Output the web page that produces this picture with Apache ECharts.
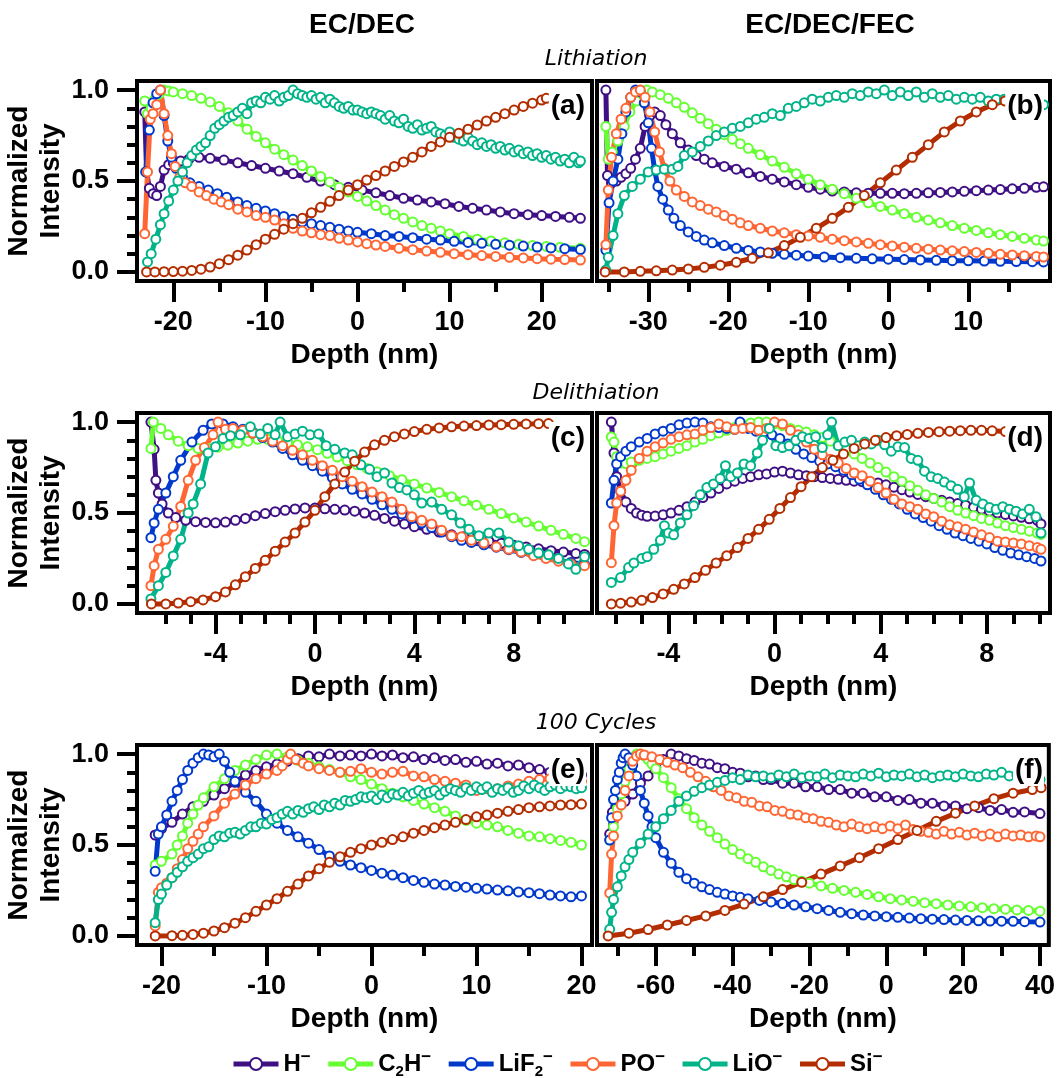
<!DOCTYPE html>
<html><head><meta charset="utf-8">
<script src="https://cdn.jsdelivr.net/npm/echarts@6/dist/echarts.min.js"></script>
<style>html,body{margin:0;padding:0;background:#fff}#c{width:1058px;height:1078px}</style>
</head><body><div id="c"></div>
<script>
const F = '"Liberation Sans", Arial, Helvetica, sans-serif';
const seriesKeys = ['H','C2H','LiF2','PO','LiO','Si'];
const seriesColors = ['#3f0f84','#66ff33','#0039cc','#ff6633','#00b388','#b32d00'];
const legendLabels = {H:'{t|H}{sup|−}', C2H:'{t|C}{sub|2}{t|H}{sup|−}', LiF2:'{t|LiF}{sub|2}{sup|−}', PO:'{t|PO}{sup|−}', LiO:'{t|LiO}{sup|−}', Si:'{t|Si}{sup|−}'};
const columnTitles = ['EC/DEC','EC/DEC/FEC'];
const rowTitles = ['Lithiation','Delithiation','100 Cycles'];
const panelLabels = ['(a)','(b)','(c)','(d)','(e)','(f)'];

const yMajorTicks = [0, 0.5, 1.0];
const yMinorTicks = [0.1,0.2,0.3,0.4,0.6,0.7,0.8,0.9];
const xMajorA = [-20,-10,0,10,20], xMinorA = [-15,-5,5,15];
const xMajorB = [-30,-20,-10,0,10], xMinorB = [-35,-25,-15,-5,5,15];
const xMajorC = [-4,0,4,8], xMinorC = [-6,-5,-3,-2,-1,1,2,3,5,6,7,9,10];
const xMajorD = [-4,0,4,8], xMinorD = [-6,-5,-3,-2,-1,1,2,3,5,6,7,9,10];
const xMajorE = [-20,-10,0,10,20], xMinorE = [-15,-5,5,15];
const xMajorF = [-60,-40,-20,0,20,40], xMinorF = [-70,-50,-30,-10,10,30];

// ---------- (a) Lithiation EC/DEC ----------
const a_H = [[-23.1,0.88],[-22.9,0.55],[-22.6,0.46],[-22.2,0.43],[-21.8,0.42],[-21.4,0.47],[-21.0,0.56],[-20.5,0.59],[-20.0,0.60],[-19.2,0.61],[-18.3,0.62],[-17.2,0.63],[-16.0,0.625],[-14.5,0.615],[-13.0,0.60],[-11.5,0.585],[-10.0,0.57],[-8.5,0.555],[-7.0,0.54],[-5.5,0.52],[-4.0,0.50],[-2.5,0.48],[-1.0,0.465],[0.5,0.45],[2,0.435],[3.5,0.42],[5,0.405],[6.5,0.395],[8,0.385],[9.5,0.375],[11,0.36],[12.5,0.35],[14,0.34],[15.5,0.33],[17,0.32],[18.5,0.315],[20,0.31],[21.5,0.305],[23,0.30],[24.2,0.295]];
const a_C2H = [[-23.1,0.94],[-22.8,0.87],[-22.4,0.90],[-22.0,0.95],[-21.5,0.98],[-21.0,1.0],[-20.5,0.995],[-20,0.99],[-19,0.98],[-18,0.97],[-17,0.955],[-16,0.935],[-15,0.91],[-14,0.875],[-13,0.83],[-12,0.785],[-11,0.745],[-10,0.71],[-9,0.675],[-8,0.645],[-7,0.615],[-6,0.585],[-5,0.555],[-4,0.525],[-3,0.495],[-2,0.465],[-1,0.44],[0,0.415],[1,0.39],[2,0.365],[3,0.34],[4,0.315],[5,0.295],[6,0.275],[7,0.255],[8,0.24],[9,0.225],[10,0.21],[11.5,0.195],[13,0.18],[14.5,0.17],[16,0.16],[17.5,0.152],[19,0.145],[20.5,0.14],[22,0.135],[24.2,0.13]];
const a_LiF2 = [[-23.0,0.55],[-22.6,0.78],[-22.2,0.93],[-21.8,0.98],[-21.4,1.0],[-21.0,0.86],[-20.6,0.72],[-20.2,0.63],[-19.7,0.57],[-19.0,0.52],[-18.2,0.49],[-17.2,0.47],[-16.2,0.45],[-15.2,0.43],[-14.2,0.41],[-13,0.385],[-12,0.365],[-11,0.35],[-10,0.335],[-9,0.32],[-8,0.305],[-7,0.29],[-6,0.275],[-5,0.265],[-4,0.255],[-3,0.245],[-2,0.235],[-1,0.225],[0,0.218],[1.5,0.21],[3,0.2],[4.5,0.195],[6,0.188],[7.5,0.18],[9,0.175],[10.5,0.168],[12,0.162],[13.5,0.157],[15,0.152],[16.5,0.147],[18,0.142],[19.5,0.137],[21,0.132],[22.5,0.128],[24.2,0.123]];
const a_PO = [[-23.1,0.21],[-22.8,0.55],[-22.5,0.84],[-22.2,0.87],[-21.8,0.92],[-21.4,1.0],[-21.0,0.87],[-20.6,0.75],[-20.2,0.65],[-19.8,0.58],[-19.3,0.52],[-18.7,0.49],[-18,0.47],[-17.2,0.44],[-16.4,0.42],[-15.6,0.40],[-14.8,0.385],[-14,0.37],[-13,0.345],[-12,0.33],[-11,0.31],[-10,0.30],[-9,0.285],[-8,0.265],[-7,0.24],[-6,0.225],[-5,0.215],[-4,0.205],[-3,0.2],[-2,0.185],[-1,0.175],[0,0.165],[1,0.155],[2,0.148],[3,0.14],[4.5,0.13],[6,0.122],[7.5,0.115],[9,0.108],[10.5,0.1],[12,0.095],[13.5,0.09],[15,0.085],[16.5,0.08],[18,0.077],[19.5,0.073],[21,0.07],[22.5,0.068],[24.2,0.065]];
const a_LiO = [[-22.8,0.055],[-22.4,0.1],[-21.9,0.18],[-21.4,0.26],[-21.0,0.32],[-20.5,0.39],[-20.0,0.45],[-19.5,0.50],[-19.0,0.55],[-18.5,0.6],[-18.0,0.64],[-17.5,0.67],[-17.0,0.69],[-16.5,0.71],[-16.0,0.75],[-15.5,0.79],[-15.0,0.81],[-14.5,0.83],[-14.0,0.85],[-13.5,0.86],[-13.0,0.88],[-12.5,0.90],[-12.0,0.87],[-11.5,0.93],[-11.0,0.94],[-10.5,0.93],[-10,0.96],[-9.5,0.95],[-9,0.97],[-8.5,0.94],[-8,0.96],[-7.5,0.97],[-7.0,1.0],[-6.5,0.98],[-6,0.97],[-5.5,0.96],[-5,0.97],[-4.5,0.95],[-4,0.96],[-3.5,0.93],[-3,0.95],[-2.5,0.93],[-2,0.91],[-1.5,0.90],[-1,0.91],[-0.5,0.89],[0,0.89],[0.5,0.88],[1,0.87],[1.5,0.88],[2,0.87],[2.5,0.86],[3,0.84],[3.5,0.86],[4,0.83],[4.5,0.82],[5,0.84],[5.5,0.80],[6,0.79],[6.5,0.81],[7,0.78],[7.5,0.79],[8,0.80],[8.5,0.77],[9,0.76],[9.5,0.75],[10,0.77],[10.5,0.74],[11,0.73],[11.5,0.72],[12,0.74],[12.5,0.72],[13,0.70],[13.5,0.71],[14,0.69],[14.5,0.70],[15,0.68],[15.5,0.69],[16,0.67],[16.5,0.68],[17,0.66],[17.5,0.67],[18,0.65],[18.5,0.66],[19,0.64],[19.5,0.65],[20,0.63],[20.5,0.64],[21,0.62],[21.5,0.63],[22,0.61],[22.5,0.62],[23,0.60],[23.5,0.63],[24,0.60],[24.2,0.61]];
const a_Si = [[-22.9,0],[-22,0],[-21,0.001],[-20,0.002],[-19,0.004],[-18,0.008],[-17,0.015],[-16,0.027],[-15,0.045],[-14,0.067],[-13,0.092],[-12,0.12],[-11,0.15],[-10,0.18],[-9,0.207],[-8,0.235],[-7,0.265],[-6,0.295],[-5,0.325],[-4,0.355],[-3,0.388],[-2,0.42],[-1,0.45],[0,0.48],[1,0.505],[2,0.53],[3,0.555],[4,0.58],[5,0.605],[6,0.63],[7,0.66],[8,0.69],[9,0.715],[10,0.74],[11,0.762],[12,0.785],[13,0.808],[14,0.83],[15,0.85],[16,0.87],[17,0.89],[18,0.91],[19,0.928],[20,0.945],[20.5,0.955]];

// ---------- (b) Lithiation EC/DEC/FEC ----------
const b_H = [[-35.3,1.0],[-35.1,0.53],[-34.6,0.49],[-34.0,0.50],[-33.4,0.52],[-32.8,0.54],[-32.2,0.57],[-31.6,0.62],[-31.0,0.68],[-30.4,0.80],[-29.8,0.86],[-29.2,0.88],[-28.5,0.86],[-27.8,0.81],[-27,0.76],[-26,0.71],[-25,0.67],[-24,0.64],[-23,0.62],[-22,0.60],[-20.5,0.58],[-19,0.565],[-17.5,0.545],[-16,0.525],[-14.5,0.51],[-13,0.495],[-11.5,0.48],[-10,0.465],[-8.5,0.455],[-7,0.445],[-5.5,0.44],[-4,0.435],[-2.5,0.433],[-1,0.432],[0.5,0.432],[2,0.43],[3.5,0.432],[5,0.435],[6.5,0.437],[8,0.44],[9.5,0.443],[11,0.447],[12.5,0.45],[14,0.453],[15.5,0.457],[17,0.46],[18.5,0.465],[19.4,0.468]];
const b_C2H = [[-35.3,0.8],[-35.0,0.62],[-34.5,0.66],[-33.8,0.72],[-33.0,0.8],[-32.3,0.88],[-31.5,0.94],[-30.8,0.98],[-30.2,1.0],[-29.5,0.99],[-28.5,0.975],[-27.5,0.955],[-26.5,0.93],[-25.5,0.905],[-24.5,0.875],[-23.5,0.845],[-22.5,0.815],[-21.5,0.785],[-20.5,0.755],[-19.5,0.73],[-18.5,0.705],[-17.5,0.68],[-16,0.645],[-14.5,0.61],[-13,0.575],[-11.5,0.54],[-10,0.51],[-8.5,0.48],[-7,0.455],[-5.5,0.43],[-4,0.405],[-2.5,0.38],[-1,0.36],[0.5,0.34],[2,0.32],[3.5,0.3],[5,0.285],[6.5,0.27],[8,0.255],[9.5,0.24],[11,0.228],[12.5,0.215],[14,0.205],[15.5,0.195],[17,0.185],[18.5,0.175],[19.4,0.17]];
const b_LiF2 = [[-35.3,0.12],[-34.9,0.38],[-34.4,0.5],[-33.8,0.62],[-33.3,0.76],[-32.8,0.88],[-32.2,0.96],[-31.6,1.0],[-31.0,0.99],[-30.5,0.93],[-30.0,0.82],[-29.6,0.68],[-29.2,0.56],[-28.8,0.47],[-28.2,0.4],[-27.5,0.34],[-26.8,0.295],[-26,0.255],[-25,0.22],[-24,0.195],[-23,0.175],[-22,0.16],[-20.5,0.145],[-19,0.13],[-17.5,0.118],[-16,0.11],[-14.5,0.102],[-13,0.097],[-11.5,0.092],[-10,0.087],[-8,0.082],[-6,0.078],[-4,0.075],[-2,0.072],[0,0.07],[2,0.068],[4,0.066],[6,0.064],[8,0.062],[10,0.061],[12,0.06],[14,0.058],[16,0.057],[18,0.056],[19.4,0.055]];
const b_PO = [[-35.3,0.15],[-35.0,0.45],[-34.6,0.63],[-34.0,0.76],[-33.4,0.84],[-32.8,0.9],[-32.2,0.96],[-31.6,0.99],[-31.0,1.0],[-30.4,0.96],[-29.8,0.88],[-29.2,0.77],[-28.6,0.66],[-28.0,0.57],[-27.3,0.5],[-26.5,0.45],[-25.5,0.415],[-24.5,0.385],[-23.5,0.365],[-22.5,0.345],[-21.5,0.33],[-20.5,0.31],[-19.5,0.29],[-18.5,0.27],[-17.5,0.255],[-16,0.24],[-14.5,0.225],[-13,0.215],[-11.5,0.205],[-10,0.198],[-8.5,0.19],[-7,0.18],[-5.5,0.172],[-4,0.165],[-2.5,0.157],[-1,0.15],[0.5,0.143],[2,0.136],[3.5,0.13],[5,0.125],[6.5,0.12],[8,0.116],[9.5,0.112],[11,0.107],[12.5,0.102],[14,0.097],[15.5,0.093],[17,0.089],[18.5,0.085],[19.4,0.082]];
const b_LiO = [[-35.3,0.01],[-35.0,0.08],[-34.4,0.2],[-33.8,0.32],[-33.0,0.42],[-32.0,0.47],[-31.0,0.51],[-30.0,0.55],[-29.0,0.56],[-28.0,0.565],[-27.0,0.565],[-26.3,0.58],[-25.5,0.64],[-24.5,0.66],[-23.5,0.69],[-22.5,0.72],[-21.5,0.75],[-20.5,0.77],[-19.5,0.79],[-18.5,0.80],[-17.5,0.82],[-16.5,0.84],[-15.5,0.85],[-14.5,0.87],[-13.5,0.86],[-12.5,0.9],[-11.5,0.91],[-10.5,0.93],[-9.5,0.95],[-8.5,0.94],[-7.5,0.96],[-6.5,0.97],[-5.5,0.96],[-4.5,0.98],[-3.5,0.97],[-2.5,0.99],[-1.5,0.98],[-0.5,1.0],[0.5,0.97],[1.5,0.99],[2.5,0.97],[3.5,0.99],[4.5,0.96],[5.5,0.98],[6.5,0.96],[7.5,0.97],[8.5,0.95],[9.5,0.96],[10.5,0.95],[11.5,0.96],[12.5,0.94],[13.5,0.95],[14.5,0.95],[15.5,0.94],[16.5,0.95],[17.5,0.93],[18.5,0.94],[19.4,0.92]];
const b_Si = [[-35.4,0],[-33,0],[-31,0.003],[-29,0.006],[-27,0.01],[-25,0.016],[-23,0.025],[-21,0.037],[-19,0.053],[-17,0.075],[-15,0.105],[-13,0.145],[-11,0.19],[-9,0.24],[-7,0.295],[-5,0.355],[-3,0.42],[-1,0.49],[1,0.56],[3,0.63],[5,0.7],[7,0.77],[9,0.83],[11,0.88],[13,0.92],[14.6,0.94]];

// ---------- (c) Delithiation EC/DEC ----------
const c_H = [[-6.6,1.0],[-6.47,0.85],[-6.4,0.68],[-6.3,0.61],[-6.15,0.55],[-5.9,0.5],[-5.6,0.475],[-5.2,0.46],[-4.8,0.452],[-4.4,0.448],[-4.0,0.446],[-3.6,0.45],[-3.2,0.46],[-2.8,0.47],[-2.4,0.485],[-2.0,0.497],[-1.6,0.507],[-1.2,0.515],[-0.8,0.522],[-0.4,0.528],[0,0.527],[0.4,0.523],[0.8,0.52],[1.2,0.516],[1.6,0.51],[2.0,0.5],[2.4,0.487],[2.8,0.47],[3.2,0.455],[3.6,0.44],[4.0,0.425],[4.5,0.41],[5.0,0.395],[5.5,0.38],[6.0,0.37],[6.5,0.36],[7.0,0.345],[7.5,0.333],[8.0,0.323],[8.5,0.313],[9.0,0.303],[9.5,0.293],[10.0,0.285],[10.5,0.277],[10.85,0.272]];
const c_C2H = [[-6.6,0.855],[-6.5,1.0],[-6.2,0.965],[-5.9,0.93],[-5.5,0.895],[-5.1,0.87],[-4.7,0.855],[-4.3,0.855],[-3.9,0.862],[-3.5,0.873],[-3.1,0.885],[-2.7,0.895],[-2.3,0.905],[-1.9,0.905],[-1.5,0.898],[-1.1,0.888],[-0.7,0.876],[-0.3,0.864],[0.1,0.848],[0.5,0.828],[0.9,0.808],[1.3,0.788],[1.7,0.765],[2.1,0.745],[2.5,0.727],[3.0,0.705],[3.5,0.683],[4.0,0.66],[4.5,0.637],[5.0,0.613],[5.5,0.59],[6.0,0.567],[6.5,0.543],[7.0,0.52],[7.5,0.497],[8.0,0.473],[8.5,0.45],[9.0,0.428],[9.5,0.405],[10.0,0.383],[10.5,0.36],[10.85,0.342]];
const c_LiF2 = [[-6.6,0.364],[-6.47,0.445],[-6.3,0.52],[-6.0,0.61],[-5.7,0.7],[-5.4,0.79],[-4.95,0.89],[-4.5,0.955],[-4.15,0.99],[-3.7,0.99],[-3.3,0.975],[-2.9,0.96],[-2.5,0.94],[-2.1,0.915],[-1.7,0.89],[-1.3,0.855],[-0.9,0.82],[-0.5,0.79],[-0.1,0.76],[0.3,0.73],[0.7,0.695],[1.1,0.66],[1.5,0.63],[1.9,0.605],[2.3,0.575],[2.7,0.545],[3.1,0.52],[3.5,0.495],[3.9,0.47],[4.3,0.445],[4.7,0.42],[5.1,0.395],[5.5,0.37],[5.9,0.35],[6.3,0.338],[6.8,0.325],[7.3,0.312],[7.8,0.298],[8.3,0.283],[8.8,0.268],[9.3,0.253],[9.8,0.24],[10.3,0.228],[10.85,0.218]];
const c_PO = [[-6.6,0.1],[-6.47,0.21],[-6.3,0.3],[-6.0,0.355],[-5.7,0.427],[-5.4,0.536],[-5.1,0.68],[-4.8,0.79],[-4.45,0.86],[-4.1,0.93],[-3.9,1.0],[-3.6,0.96],[-3.3,0.965],[-2.9,0.955],[-2.5,0.94],[-2.1,0.92],[-1.7,0.895],[-1.3,0.87],[-0.9,0.845],[-0.5,0.82],[-0.1,0.79],[0.3,0.76],[0.7,0.735],[1.1,0.7],[1.5,0.675],[1.9,0.645],[2.3,0.615],[2.7,0.59],[3.1,0.56],[3.5,0.52],[3.9,0.48],[4.3,0.46],[4.7,0.44],[5.1,0.405],[5.5,0.375],[5.9,0.37],[6.3,0.35],[6.8,0.335],[7.3,0.315],[7.8,0.3],[8.3,0.285],[8.8,0.265],[9.3,0.25],[9.8,0.235],[10.3,0.22],[10.85,0.21]];
const c_LiO = [[-6.6,0.027],[-6.3,0.1],[-6.0,0.173],[-5.7,0.264],[-5.4,0.355],[-5.1,0.5],[-4.9,0.55],[-4.6,0.66],[-4.3,0.83],[-4.0,0.865],[-3.7,0.91],[-3.4,0.925],[-3.0,0.93],[-2.6,0.975],[-2.2,0.935],[-1.9,0.965],[-1.6,0.93],[-1.4,1.0],[-1.1,0.92],[-0.8,0.935],[-0.5,0.95],[-0.2,0.93],[0.15,0.935],[0.45,0.87],[0.8,0.85],[1.2,0.83],[1.5,0.82],[1.85,0.765],[2.2,0.74],[2.5,0.7],[2.8,0.72],[3.1,0.665],[3.4,0.64],[3.7,0.627],[4.0,0.6],[4.3,0.555],[4.7,0.56],[5.1,0.52],[5.5,0.49],[5.85,0.445],[6.2,0.41],[6.6,0.375],[7.0,0.39],[7.4,0.39],[7.8,0.34],[8.2,0.32],[8.6,0.3],[9.0,0.28],[9.4,0.27],[9.8,0.25],[10.2,0.22],[10.5,0.19],[10.85,0.26]];
const c_Si = [[-6.58,0],[-6.0,0],[-5.5,0.005],[-5.0,0.012],[-4.5,0.022],[-4.0,0.04],[-3.6,0.066],[-3.2,0.105],[-2.8,0.15],[-2.4,0.195],[-2.0,0.24],[-1.6,0.29],[-1.2,0.34],[-0.8,0.39],[-0.4,0.45],[0.0,0.515],[0.4,0.59],[0.8,0.66],[1.2,0.725],[1.6,0.785],[2.0,0.835],[2.4,0.875],[2.8,0.9],[3.2,0.92],[3.6,0.935],[4.0,0.948],[4.5,0.96],[5.0,0.968],[5.5,0.974],[6.0,0.978],[6.5,0.981],[7.0,0.984],[7.5,0.986],[8.0,0.988],[8.5,0.99],[9.0,0.991],[9.4,0.992]];

// ---------- (d) Delithiation EC/DEC/FEC ----------
const d_H = [[-6.15,1.0],[-6.05,0.83],[-5.95,0.7],[-5.8,0.62],[-5.6,0.56],[-5.4,0.525],[-5.2,0.5],[-5.0,0.488],[-4.8,0.482],[-4.5,0.483],[-4.2,0.49],[-3.9,0.5],[-3.6,0.515],[-3.3,0.535],[-3.0,0.56],[-2.7,0.585],[-2.4,0.61],[-2.1,0.635],[-1.8,0.66],[-1.5,0.675],[-1.2,0.69],[-0.9,0.7],[-0.6,0.71],[-0.3,0.715],[0,0.725],[0.3,0.73],[0.6,0.72],[0.9,0.71],[1.2,0.705],[1.5,0.7],[1.8,0.695],[2.1,0.69],[2.4,0.685],[2.7,0.68],[3.0,0.675],[3.3,0.672],[3.6,0.668],[3.9,0.665],[4.2,0.655],[4.5,0.642],[4.8,0.628],[5.1,0.615],[5.4,0.602],[5.7,0.59],[6.0,0.58],[6.3,0.57],[6.6,0.56],[6.9,0.552],[7.2,0.543],[7.5,0.532],[7.8,0.52],[8.1,0.51],[8.4,0.5],[8.7,0.492],[9.0,0.484],[9.3,0.476],[9.6,0.468],[9.9,0.46],[10.04,0.44]];
const d_C2H = [[-6.15,0.918],[-6.05,0.89],[-5.95,0.81],[-5.8,0.775],[-5.6,0.772],[-5.4,0.78],[-5.1,0.79],[-4.8,0.8],[-4.5,0.81],[-4.2,0.825],[-3.9,0.84],[-3.6,0.855],[-3.3,0.87],[-3.0,0.89],[-2.7,0.905],[-2.4,0.925],[-2.1,0.94],[-1.8,0.955],[-1.5,0.97],[-1.2,0.985],[-0.9,0.995],[-0.6,1.0],[-0.3,1.0],[0,0.99],[0.3,0.98],[0.6,0.965],[0.9,0.955],[1.2,0.945],[1.5,0.93],[1.8,0.915],[2.1,0.895],[2.4,0.87],[2.7,0.85],[3.0,0.825],[3.3,0.8],[3.6,0.775],[3.9,0.75],[4.2,0.725],[4.5,0.7],[4.8,0.675],[5.1,0.65],[5.4,0.625],[5.7,0.6],[6.0,0.58],[6.3,0.56],[6.6,0.535],[6.9,0.515],[7.2,0.5],[7.5,0.485],[7.8,0.47],[8.1,0.46],[8.4,0.445],[8.7,0.43],[9.0,0.42],[9.3,0.41],[9.6,0.4],[9.9,0.39],[10.04,0.382]];
const d_LiF2 = [[-6.15,0.555],[-6.05,0.68],[-5.95,0.77],[-5.8,0.81],[-5.6,0.84],[-5.4,0.865],[-5.1,0.89],[-4.8,0.91],[-4.5,0.935],[-4.2,0.95],[-3.9,0.965],[-3.6,0.985],[-3.3,0.995],[-3.0,1.0],[-2.7,0.995],[-2.4,0.975],[-2.1,0.97],[-1.8,0.965],[-1.5,0.96],[-1.3,1.0],[-1.0,0.965],[-0.7,0.95],[-0.4,0.945],[-0.1,0.93],[0.2,0.91],[0.5,0.88],[0.8,0.85],[1.1,0.825],[1.4,0.805],[1.7,0.785],[2.0,0.77],[2.3,0.755],[2.6,0.735],[2.9,0.71],[3.2,0.685],[3.5,0.655],[3.8,0.63],[4.1,0.6],[4.4,0.575],[4.7,0.55],[5.0,0.52],[5.3,0.495],[5.6,0.475],[5.9,0.455],[6.2,0.43],[6.5,0.41],[6.8,0.39],[7.1,0.375],[7.4,0.36],[7.7,0.345],[8.0,0.33],[8.3,0.31],[8.6,0.295],[8.9,0.28],[9.2,0.27],[9.5,0.26],[9.8,0.25],[10.04,0.236]];
const d_PO = [[-6.15,0.227],[-6.05,0.43],[-5.95,0.555],[-5.8,0.62],[-5.6,0.68],[-5.4,0.735],[-5.1,0.8],[-4.8,0.84],[-4.5,0.865],[-4.2,0.885],[-3.9,0.905],[-3.6,0.92],[-3.3,0.93],[-3.0,0.935],[-2.7,0.955],[-2.4,0.97],[-2.1,0.99],[-1.8,0.975],[-1.5,0.96],[-1.2,0.965],[-0.9,0.97],[-0.6,0.955],[-0.3,0.965],[0.0,1.0],[0.3,0.99],[0.6,0.955],[0.9,0.93],[1.2,0.89],[1.5,0.85],[1.8,0.82],[2.1,0.795],[2.4,0.775],[2.7,0.745],[3.0,0.72],[3.3,0.705],[3.6,0.675],[3.9,0.64],[4.2,0.61],[4.5,0.575],[4.8,0.55],[5.1,0.535],[5.4,0.52],[5.7,0.495],[6.0,0.48],[6.3,0.455],[6.6,0.435],[6.9,0.425],[7.2,0.41],[7.5,0.395],[7.8,0.38],[8.1,0.365],[8.4,0.345],[8.7,0.34],[9.0,0.335],[9.3,0.33],[9.6,0.32],[9.9,0.31],[10.04,0.3]];
const d_LiO = [[-6.15,0.118],[-5.8,0.145],[-5.5,0.2],[-5.3,0.225],[-5.0,0.25],[-4.8,0.26],[-4.55,0.3],[-4.3,0.35],[-4.15,0.43],[-4.0,0.39],[-3.8,0.38],[-3.55,0.445],[-3.3,0.49],[-3.05,0.54],[-2.8,0.6],[-2.55,0.64],[-2.3,0.66],[-2.05,0.69],[-1.85,0.76],[-1.65,0.7],[-1.4,0.72],[-1.15,0.77],[-0.9,0.76],[-0.65,0.83],[-0.45,0.9],[-0.2,0.965],[0.05,0.87],[0.3,0.86],[0.55,0.87],[0.8,0.9],[1.05,0.92],[1.3,0.91],[1.55,0.92],[1.8,0.86],[2.0,0.93],[2.15,1.0],[2.4,0.87],[2.65,0.89],[2.9,0.9],[3.15,0.87],[3.4,0.89],[3.65,0.88],[3.9,0.9],[4.15,0.875],[4.4,0.84],[4.65,0.865],[4.9,0.86],[5.15,0.8],[5.4,0.79],[5.65,0.73],[5.9,0.7],[6.15,0.69],[6.4,0.67],[6.65,0.65],[6.9,0.63],[7.15,0.59],[7.35,0.665],[7.6,0.57],[7.85,0.55],[8.1,0.53],[8.35,0.52],[8.6,0.535],[8.85,0.52],[9.1,0.51],[9.35,0.495],[9.6,0.52],[9.85,0.48],[10.04,0.39]];
const d_Si = [[-6.15,0],[-5.8,0.004],[-5.4,0.01],[-5.0,0.02],[-4.6,0.035],[-4.2,0.055],[-3.8,0.08],[-3.4,0.11],[-3.0,0.145],[-2.6,0.185],[-2.2,0.225],[-1.8,0.265],[-1.4,0.31],[-1.0,0.36],[-0.6,0.41],[-0.2,0.465],[0.2,0.525],[0.6,0.585],[1.0,0.645],[1.4,0.7],[1.8,0.75],[2.2,0.79],[2.6,0.825],[3.0,0.855],[3.4,0.88],[3.8,0.9],[4.2,0.915],[4.6,0.925],[5.0,0.932],[5.4,0.938],[5.8,0.943],[6.2,0.947],[6.6,0.95],[7.0,0.953],[7.4,0.955],[7.8,0.955],[8.2,0.952],[8.7,0.948]];

// ---------- (e) 100 cycles EC/DEC ----------
const e_H = [[-20.6,0.555],[-20,0.59],[-19,0.625],[-18,0.67],[-17,0.71],[-16,0.74],[-15,0.775],[-14,0.81],[-13,0.845],[-12,0.885],[-11,0.91],[-10,0.93],[-9,0.945],[-8,0.96],[-7,0.975],[-6,0.99],[-5,0.985],[-4,1.0],[-3,0.99],[-2,0.995],[-1,0.99],[0,1.0],[1,0.99],[2,0.995],[3,0.98],[4,0.985],[5,0.97],[6,0.98],[7,0.965],[8,0.97],[9,0.955],[10,0.96],[11,0.945],[12,0.95],[13,0.935],[14,0.94],[15,0.925],[16,0.915],[17,0.9],[18,0.895],[19,0.89],[20,0.885]];
const e_C2H = [[-20.6,0.39],[-20,0.41],[-19,0.45],[-18.5,0.5],[-18,0.55],[-17.5,0.62],[-17,0.67],[-16.5,0.72],[-16,0.76],[-15,0.82],[-14,0.865],[-13,0.91],[-12,0.94],[-11,0.97],[-10,0.995],[-9,1.0],[-8,0.985],[-7,0.965],[-6,0.95],[-5,0.93],[-4,0.915],[-3,0.9],[-2,0.875],[-1,0.86],[0,0.835],[1,0.81],[2,0.785],[3,0.765],[4,0.745],[5,0.725],[6,0.705],[7,0.685],[8,0.66],[9,0.635],[10,0.62],[11,0.61],[12,0.6],[13,0.58],[14,0.565],[15,0.55],[16,0.545],[17,0.535],[18,0.525],[19,0.515],[20,0.5]];
const e_LiF2 = [[-20.6,0.355],[-20.3,0.56],[-20,0.6],[-19.5,0.665],[-19,0.74],[-18.5,0.8],[-18,0.86],[-17.5,0.91],[-17,0.95],[-16.5,0.98],[-16,1.0],[-15.5,0.995],[-15,0.985],[-14.5,1.0],[-14,0.96],[-13.5,0.9],[-13,0.85],[-12,0.79],[-11,0.74],[-10,0.67],[-9,0.62],[-8,0.58],[-7,0.545],[-6,0.51],[-5,0.475],[-4,0.44],[-3,0.41],[-2,0.39],[-1,0.375],[0,0.36],[1,0.345],[2,0.335],[3,0.32],[4,0.305],[5,0.295],[6,0.285],[7,0.28],[8,0.272],[9,0.268],[10,0.262],[11,0.258],[12,0.252],[13,0.248],[14,0.242],[15,0.238],[16,0.232],[17,0.225],[18,0.22],[19,0.215],[20,0.22]];
const e_PO = [[-20.6,0.055],[-20.3,0.24],[-20,0.265],[-19.5,0.29],[-19,0.32],[-18.5,0.37],[-18,0.42],[-17.5,0.48],[-17,0.52],[-16.5,0.56],[-16,0.6],[-15,0.66],[-14,0.73],[-13,0.78],[-12,0.83],[-11,0.865],[-10,0.89],[-9,0.91],[-8.5,0.935],[-8,0.97],[-7.7,1.0],[-7.2,0.97],[-6.5,0.95],[-6,0.935],[-5,0.92],[-4,0.91],[-3,0.9],[-2,0.905],[-1,0.92],[0,0.9],[1,0.89],[2,0.9],[3,0.905],[4,0.88],[5,0.875],[6,0.86],[7,0.85],[8,0.84],[9,0.83],[10,0.8],[11,0.81],[12,0.81],[13,0.825],[14,0.835],[15,0.85],[16,0.86],[17,0.865],[18,0.86],[19,0.855],[20,0.85]];
const e_LiO = [[-20.6,0.073],[-20.3,0.2],[-20,0.23],[-19.5,0.28],[-19,0.32],[-18.5,0.35],[-18,0.38],[-17.5,0.41],[-17,0.43],[-16.5,0.45],[-16,0.48],[-15.5,0.49],[-15,0.53],[-14.5,0.55],[-14,0.545],[-13.5,0.565],[-13,0.57],[-12.5,0.56],[-12,0.58],[-11.5,0.6],[-11,0.6],[-10.5,0.62],[-10,0.615],[-9.5,0.64],[-9,0.65],[-8.5,0.67],[-8,0.685],[-7.5,0.67],[-7,0.69],[-6.5,0.68],[-6,0.7],[-5.5,0.71],[-5,0.695],[-4.5,0.72],[-4,0.71],[-3.5,0.73],[-3,0.72],[-2.5,0.745],[-2,0.74],[-1.5,0.75],[-1,0.765],[-0.5,0.76],[0,0.77],[0.5,0.75],[1,0.775],[1.5,0.76],[2,0.78],[2.5,0.775],[3,0.79],[3.5,0.77],[4,0.785],[4.5,0.8],[5,0.78],[5.5,0.79],[6,0.8],[6.5,0.775],[7,0.795],[7.5,0.81],[8,0.8],[8.5,0.79],[9,0.815],[9.5,0.8],[10,0.82],[10.5,0.805],[11,0.82],[11.5,0.79],[12,0.81],[12.5,0.8],[13,0.815],[13.5,0.79],[14,0.8],[14.5,0.825],[15,0.81],[15.5,0.83],[16,0.815],[16.5,0.8],[17,0.82],[17.5,0.83],[18,0.81],[18.5,0.825],[19,0.82],[19.5,0.81],[20,0.815]];
const e_Si = [[-20.6,0],[-19,0.001],[-18,0.003],[-17,0.008],[-16,0.015],[-15,0.027],[-14,0.045],[-13,0.07],[-12,0.1],[-11,0.135],[-10,0.17],[-9,0.205],[-8,0.245],[-7,0.285],[-6,0.33],[-5,0.37],[-4,0.405],[-3,0.435],[-2,0.46],[-1,0.48],[0,0.5],[1,0.515],[2,0.53],[3,0.545],[4,0.565],[5,0.58],[6,0.595],[7,0.61],[8,0.625],[9,0.64],[10,0.655],[11,0.665],[12,0.675],[13,0.685],[14,0.695],[15,0.705],[16,0.71],[17,0.715],[18,0.72],[19,0.722],[20,0.725]];

// ---------- (f) 100 cycles EC/DEC/FEC ----------
const f_H = [[-72,0.56],[-71.3,0.68],[-70,0.72],[-68,0.74],[-66,0.78],[-64,0.84],[-62,0.88],[-60,0.93],[-58,0.97],[-56,1.0],[-54,0.99],[-52,0.975],[-50,0.965],[-48,0.95],[-46,0.945],[-44,0.925],[-42,0.92],[-40,0.9],[-38,0.895],[-36,0.875],[-34,0.88],[-32,0.86],[-30,0.86],[-27,0.84],[-24,0.84],[-21,0.82],[-18,0.82],[-15,0.805],[-12,0.805],[-9,0.785],[-6,0.785],[-3,0.765],[0,0.765],[3,0.745],[6,0.75],[9,0.73],[12,0.73],[15,0.715],[18,0.715],[21,0.7],[24,0.705],[27,0.69],[30,0.695],[33,0.68],[36,0.682],[40,0.673]];
const f_C2H = [[-72,0.527],[-71,0.6],[-70,0.7],[-69,0.78],[-68,0.85],[-67,0.92],[-66,0.98],[-65,1.0],[-64,1.0],[-63,0.99],[-62,0.97],[-61,0.945],[-60,0.92],[-58,0.87],[-56,0.815],[-54,0.755],[-52,0.7],[-50,0.65],[-48,0.61],[-46,0.575],[-44,0.54],[-42,0.505],[-40,0.475],[-38,0.45],[-36,0.425],[-34,0.405],[-32,0.38],[-30,0.36],[-28,0.34],[-26,0.325],[-24,0.31],[-22,0.3],[-20,0.29],[-17,0.275],[-14,0.262],[-11,0.25],[-8,0.24],[-5,0.228],[-2,0.215],[1,0.205],[4,0.198],[7,0.19],[10,0.183],[13,0.177],[16,0.17],[19,0.165],[22,0.16],[25,0.155],[28,0.15],[31,0.147],[34,0.143],[37,0.14],[40,0.136]];
const f_LiF2 = [[-72,0.527],[-71.5,0.65],[-71,0.75],[-70.5,0.8],[-70,0.86],[-69.5,0.9],[-69,0.95],[-68.5,0.98],[-68,1.0],[-67,0.98],[-66,0.94],[-65,0.88],[-64,0.8],[-63,0.73],[-62,0.66],[-61,0.6],[-60,0.54],[-58,0.46],[-56,0.4],[-54,0.35],[-52,0.315],[-50,0.29],[-48,0.27],[-46,0.255],[-44,0.24],[-42,0.23],[-40,0.22],[-38,0.212],[-36,0.205],[-33,0.195],[-30,0.187],[-27,0.178],[-24,0.17],[-21,0.16],[-18,0.15],[-15,0.14],[-12,0.13],[-9,0.122],[-6,0.115],[-3,0.11],[0,0.106],[3,0.102],[6,0.098],[9,0.095],[12,0.092],[15,0.09],[18,0.087],[21,0.085],[24,0.083],[27,0.082],[30,0.081],[33,0.08],[36,0.078],[40,0.076]];
const f_PO = [[-72,0.236],[-71.5,0.45],[-71,0.55],[-70,0.66],[-69,0.72],[-68,0.8],[-67,0.88],[-66,0.96],[-65,0.99],[-64,1.0],[-63,0.995],[-61,0.985],[-59,0.97],[-57,0.955],[-55,0.94],[-53,0.925],[-51,0.9],[-49,0.875],[-47,0.85],[-45,0.82],[-43,0.8],[-41,0.77],[-39,0.76],[-37,0.74],[-35,0.735],[-33,0.715],[-31,0.71],[-29,0.69],[-27,0.685],[-25,0.67],[-23,0.665],[-21,0.65],[-19,0.645],[-17,0.63],[-15,0.625],[-13,0.61],[-11,0.6],[-9,0.615],[-7,0.6],[-5,0.59],[-3,0.6],[-1,0.59],[1,0.605],[3,0.59],[5,0.61],[7,0.585],[9,0.575],[11,0.57],[13,0.56],[15,0.575],[17,0.56],[19,0.57],[21,0.555],[23,0.565],[25,0.55],[27,0.56],[29,0.545],[31,0.56],[33,0.55],[35,0.555],[37,0.545],[39,0.55],[40,0.545]];
const f_LiO = [[-72,0.036],[-71.5,0.13],[-71,0.2],[-70,0.27],[-69,0.33],[-68,0.38],[-67,0.42],[-66,0.46],[-64,0.51],[-62,0.56],[-60,0.6],[-58,0.645],[-56,0.69],[-54,0.74],[-52,0.77],[-50,0.795],[-48,0.815],[-46,0.83],[-44,0.845],[-42,0.855],[-40,0.87],[-38,0.86],[-36,0.885],[-34,0.875],[-32,0.88],[-30,0.87],[-28,0.885],[-26,0.875],[-24,0.89],[-22,0.87],[-20,0.88],[-18,0.875],[-16,0.89],[-14,0.87],[-12,0.885],[-10,0.88],[-8,0.875],[-6,0.89],[-4,0.88],[-2,0.895],[0,0.875],[2,0.885],[4,0.88],[6,0.89],[8,0.875],[10,0.885],[12,0.87],[14,0.88],[16,0.885],[18,0.875],[20,0.89],[22,0.88],[24,0.875],[26,0.89],[28,0.885],[30,0.9],[32,0.88],[34,0.885],[36,0.87],[38,0.875],[40,0.86]];
const f_Si = [[-72.4,0],[-67,0.015],[-62,0.035],[-57,0.06],[-52,0.085],[-47,0.11],[-42,0.14],[-37,0.175],[-32,0.215],[-27,0.255],[-22,0.295],[-17,0.34],[-12,0.385],[-7,0.43],[-2,0.48],[3,0.53],[8,0.58],[13,0.63],[18,0.675],[23,0.715],[28,0.755],[33,0.785],[38,0.805],[40.3,0.815]];

// ---------- layout ----------
const rowTop = [81, 413, 745];
const colLeft = [137, 597];
const colWidth = [455, 453];
const boxH = 200;
const yMin = -0.05, yMax = 1.05;

const panels = [
  {row:0,col:0,xmin:-23.94,xmax:25.46,major:xMajorA,minor:xMinorA,data:[a_H,a_C2H,a_LiF2,a_PO,a_LiO,a_Si]},
  {row:0,col:1,xmin:-36.41,xmax:20.21,major:xMajorB,minor:xMinorB,data:[b_H,b_C2H,b_LiF2,b_PO,b_LiO,b_Si]},
  {row:1,col:0,xmin:-7.16,xmax:11.15,major:xMajorC,minor:xMinorC,data:[c_H,c_C2H,c_LiF2,c_PO,c_LiO,c_Si]},
  {row:1,col:1,xmin:-6.69,xmax:10.38,major:xMajorD,minor:xMinorD,data:[d_H,d_C2H,d_LiF2,d_PO,d_LiO,d_Si]},
  {row:2,col:0,xmin:-22.33,xmax:21.0,major:xMajorE,minor:xMinorE,data:[e_H,e_C2H,e_LiF2,e_PO,e_LiO,e_Si]},
  {row:2,col:1,xmin:-75.3,xmax:42.3,major:xMajorF,minor:xMinorF,data:[f_H,f_C2H,f_LiF2,f_PO,f_LiO,f_Si]}
];

const tickStyle = {color:'#000', width:4};
const boldText = {color:'#000', fontFamily:F, fontWeight:'bold'};
const grid=[], xAxis=[], yAxis=[], series=[], graphic=[];

panels.forEach((p,i)=>{
  grid.push({left:colLeft[p.col], top:rowTop[p.row], width:colWidth[p.col], height:boxH,
    show:true, borderColor:'#000', borderWidth:4, backgroundColor:'rgba(0,0,0,0)'});
  const xi = xAxis.length;
  xAxis.push({type:'value', gridIndex:i, min:p.xmin, max:p.xmax, position:'bottom',
    axisLine:{show:false,onZero:false}, splitLine:{show:false},
    axisTick:{show:true, inside:false, customValues:p.major, length:21, lineStyle:tickStyle},
    axisLabel:Object.assign({show:true, customValues:p.major, margin:28, fontSize:27}, boldText),
    name:'Depth (nm)', nameLocation:'middle', nameGap:60,
    nameTextStyle:Object.assign({fontSize:28}, boldText)});
  xAxis.push({type:'value', gridIndex:i, min:p.xmin, max:p.xmax, position:'bottom',
    axisLine:{show:false,onZero:false}, splitLine:{show:false},
    axisTick:{show:true, inside:false, customValues:p.minor, length:11, lineStyle:tickStyle},
    axisLabel:{show:false}});
  const yi = yAxis.length;
  if (p.col === 0) {
    yAxis.push({type:'value', gridIndex:i, min:yMin, max:yMax, position:'left',
      axisLine:{show:false,onZero:false}, splitLine:{show:false},
      axisTick:{show:true, inside:false, customValues:yMajorTicks, length:20, lineStyle:tickStyle},
      axisLabel:Object.assign({show:true, customValues:yMajorTicks, margin:28, fontSize:27,
        formatter:v=>Number(v).toFixed(1)}, boldText),
      name:'Normalized\nIntensity', nameLocation:'middle', nameGap:70, nameRotate:90,
      nameTextStyle:Object.assign({fontSize:28, lineHeight:32, align:'center'}, boldText)});
    yAxis.push({type:'value', gridIndex:i, min:yMin, max:yMax, position:'left',
      axisLine:{show:false,onZero:false}, splitLine:{show:false},
      axisTick:{show:true, inside:false, customValues:yMinorTicks, length:10, lineStyle:tickStyle},
      axisLabel:{show:false}});
  } else {
    yAxis.push({type:'value', gridIndex:i, min:yMin, max:yMax, position:'left',
      axisLine:{show:false,onZero:false}, splitLine:{show:false},
      axisTick:{show:false}, axisLabel:{show:false}});
  }
  p.data.forEach((d,s)=>{
    series.push({type:'line', name:seriesKeys[s], xAxisIndex:xi, yAxisIndex:yi, data:d,
      symbol:'emptyCircle', symbolSize:9, showSymbol:true,
      lineStyle:{color:seriesColors[s], width:5},
      itemStyle:{color:seriesColors[s], borderColor:seriesColors[s], borderWidth:2.5},
      emphasis:{disabled:true}, silent:true, animation:false, clip:true});
  });
  const lx = p.col === 0 ? 586 : 1044;
  graphic.push({type:'text', x:lx, y:rowTop[p.row]+25, z:100,
    style:{text:panelLabels[i], fill:'#000', fontFamily:F, fontWeight:'bold', fontSize:28,
      align:'right', verticalAlign:'middle', backgroundColor:'#fff', padding:[2,1,2,2]}});
});

graphic.push({type:'text', x:362, y:25, z:100, style:{text:columnTitles[0], fill:'#000', fontFamily:F, fontWeight:'bold', fontSize:28, align:'center', verticalAlign:'middle'}});
graphic.push({type:'text', x:830, y:25, z:100, style:{text:columnTitles[1], fill:'#000', fontFamily:F, fontWeight:'bold', fontSize:28, align:'center', verticalAlign:'middle'}});
const subY = [59, 393, 723];
rowTitles.forEach((t,r)=>{
  graphic.push({type:'text', x:596, y:subY[r], z:100, style:{text:t, fill:'#000', fontFamily:'"DejaVu Sans", Verdana, sans-serif', fontStyle:'italic', fontSize:22, align:'center', verticalAlign:'middle'}});
});

const chart = echarts.init(document.getElementById('c'), null, {renderer:'canvas'});
chart.setOption({
  backgroundColor:'#fff',
  animation:false,
  grid, xAxis, yAxis, series, graphic,
  legend:{show:true, left:231, top:1049, orient:'horizontal', padding:0, itemWidth:45, itemHeight:15, itemGap:15,
    data:seriesKeys, selectedMode:false, formatter:n=>legendLabels[n],
    lineStyle:{width:5},
    textStyle:{color:'#000', fontFamily:F, fontWeight:'bold', fontSize:24,
      rich:{
        t:{fontFamily:F, fontWeight:'bold', fontSize:24, color:'#000', lineHeight:30},
        sup:{fontFamily:F, fontWeight:'bold', fontSize:17, color:'#000', lineHeight:14, verticalAlign:'top'},
        sub:{fontFamily:F, fontWeight:'bold', fontSize:15, color:'#000', lineHeight:14, verticalAlign:'bottom'}
      }}}
});
</script></body></html>
